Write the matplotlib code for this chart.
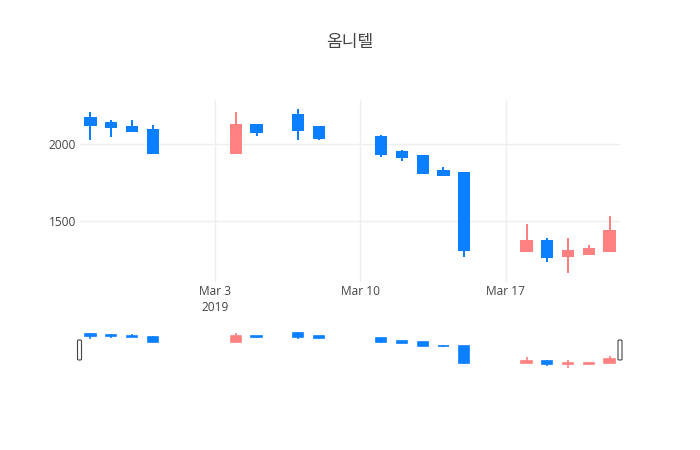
"""Candlestick chart of 옴니텔 (Feb-Mar 2019) with a range-slider preview."""

import matplotlib
matplotlib.use("Agg")
import matplotlib.dates as mdates
import matplotlib.pyplot as plt
import numpy as np
import pandas as pd
from matplotlib.patches import FancyBboxPatch
from matplotlib.ticker import FixedLocator, MultipleLocator

TITLE = "옴니텔"

DATES = ["2019-02-25", "2019-02-26", "2019-02-27", "2019-02-28",
         "2019-03-04", "2019-03-05", "2019-03-07", "2019-03-08",
         "2019-03-11", "2019-03-12", "2019-03-13", "2019-03-14", "2019-03-15",
         "2019-03-18", "2019-03-19", "2019-03-20", "2019-03-21", "2019-03-22"]
OPEN  = [2175, 2140, 2115, 2095, 1945, 2125, 2190, 2110,
         2050, 1950, 1925, 1825, 1810, 1305, 1370, 1270, 1285, 1300]
HIGH  = [2210, 2160, 2160, 2125, 2210, 2125, 2230, 2110,
         2060, 1960, 1930, 1850, 1810, 1480, 1390, 1390, 1340, 1530]
LOW   = [2030, 2045, 2090, 1945, 1945, 2055, 2030, 2030,
         1915, 1890, 1810, 1790, 1265, 1305, 1230, 1160, 1280, 1300]
CLOSE = [2125, 2110, 2090, 1945, 2125, 2080, 2095, 2040,
         1935, 1915, 1810, 1800, 1310, 1370, 1265, 1300, 1315, 1435]

XTICK_DATES  = ["2019-03-03", "2019-03-10", "2019-03-17"]
XTICK_LABELS = ["Mar 3\n2019", "Mar 10", "Mar 17"]

UP_COLOR   = "#ff8080"
DOWN_COLOR = "#0a7fff"
GRID_COLOR = "#eeeeee"
TEXT_COLOR = "#444444"
FONT = ["Open Sans", "Noto Sans CJK KR", "DejaVu Sans"]

W, H = 700, 450


def draw_candles(ax, x, o, h, l, c, lw):
    colors = np.where(c > o, UP_COLOR, DOWN_COLOR)
    ax.vlines(x, l, h, colors=colors, linewidth=lw, zorder=2)
    ax.bar(x, np.abs(c - o), width=0.5, bottom=np.minimum(o, c),
           color=colors, edgecolor=colors, linewidth=lw, zorder=3)


def main() -> None:
    plt.rcParams["font.family"] = FONT
    x = mdates.date2num(pd.to_datetime(DATES))
    o, h, l, c = (np.array(v, dtype=float) for v in (OPEN, HIGH, LOW, CLOSE))

    xlim = (x.min() - 0.5, x.max() + 0.5)
    span = h.max() - l.min()
    ylim = (l.min() - span / 18, h.max() + span / 18)

    fig = plt.figure(figsize=(W / 100, H / 100), dpi=100)
    fig.patch.set_facecolor("white")

    ax = fig.add_axes([80 / W, (H - 282) / H, 540 / W, 182 / H])
    draw_candles(ax, x, o, h, l, c, lw=1.44)
    ax.set_xlim(xlim)
    ax.set_ylim(ylim)
    ax.yaxis.set_major_locator(MultipleLocator(500))
    ax.xaxis.set_major_locator(FixedLocator(mdates.date2num(pd.to_datetime(XTICK_DATES))))
    ax.set_xticklabels(XTICK_LABELS, linespacing=1.25)
    ax.grid(True, color=GRID_COLOR, linewidth=1, zorder=0)
    ax.set_axisbelow(True)
    for s in ax.spines.values():
        s.set_visible(False)
    ax.tick_params(length=0, labelsize=8.6, labelcolor=TEXT_COLOR)
    ax.tick_params(axis="x", pad=2.5)
    ax.tick_params(axis="y", pad=3)

    fig.text(350 / W, 1 - 43 / H, TITLE, ha="center", va="center",
             fontsize=12.3, color=TEXT_COLOR)

    # range slider preview
    rs = fig.add_axes([80 / W, (H - 370) / H, 540 / W, 40 / H])
    draw_candles(rs, x, o, h, l, c, lw=1.2)
    rs.set_xlim(xlim)
    rs.set_ylim(ylim)
    rs.axis("off")

    for hx in (79.5, 620):
        fig.patches.append(FancyBboxPatch(
            ((hx - 2) / W, (H - 360) / H), 4 / W, 20 / H,
            boxstyle="round,pad=0,rounding_size=0.002",
            transform=fig.transFigure, facecolor="white",
            edgecolor=TEXT_COLOR, linewidth=0.8, zorder=5))

    fig.savefig("out.png", dpi=100)
    plt.close(fig)


if __name__ == "__main__":
    main()
